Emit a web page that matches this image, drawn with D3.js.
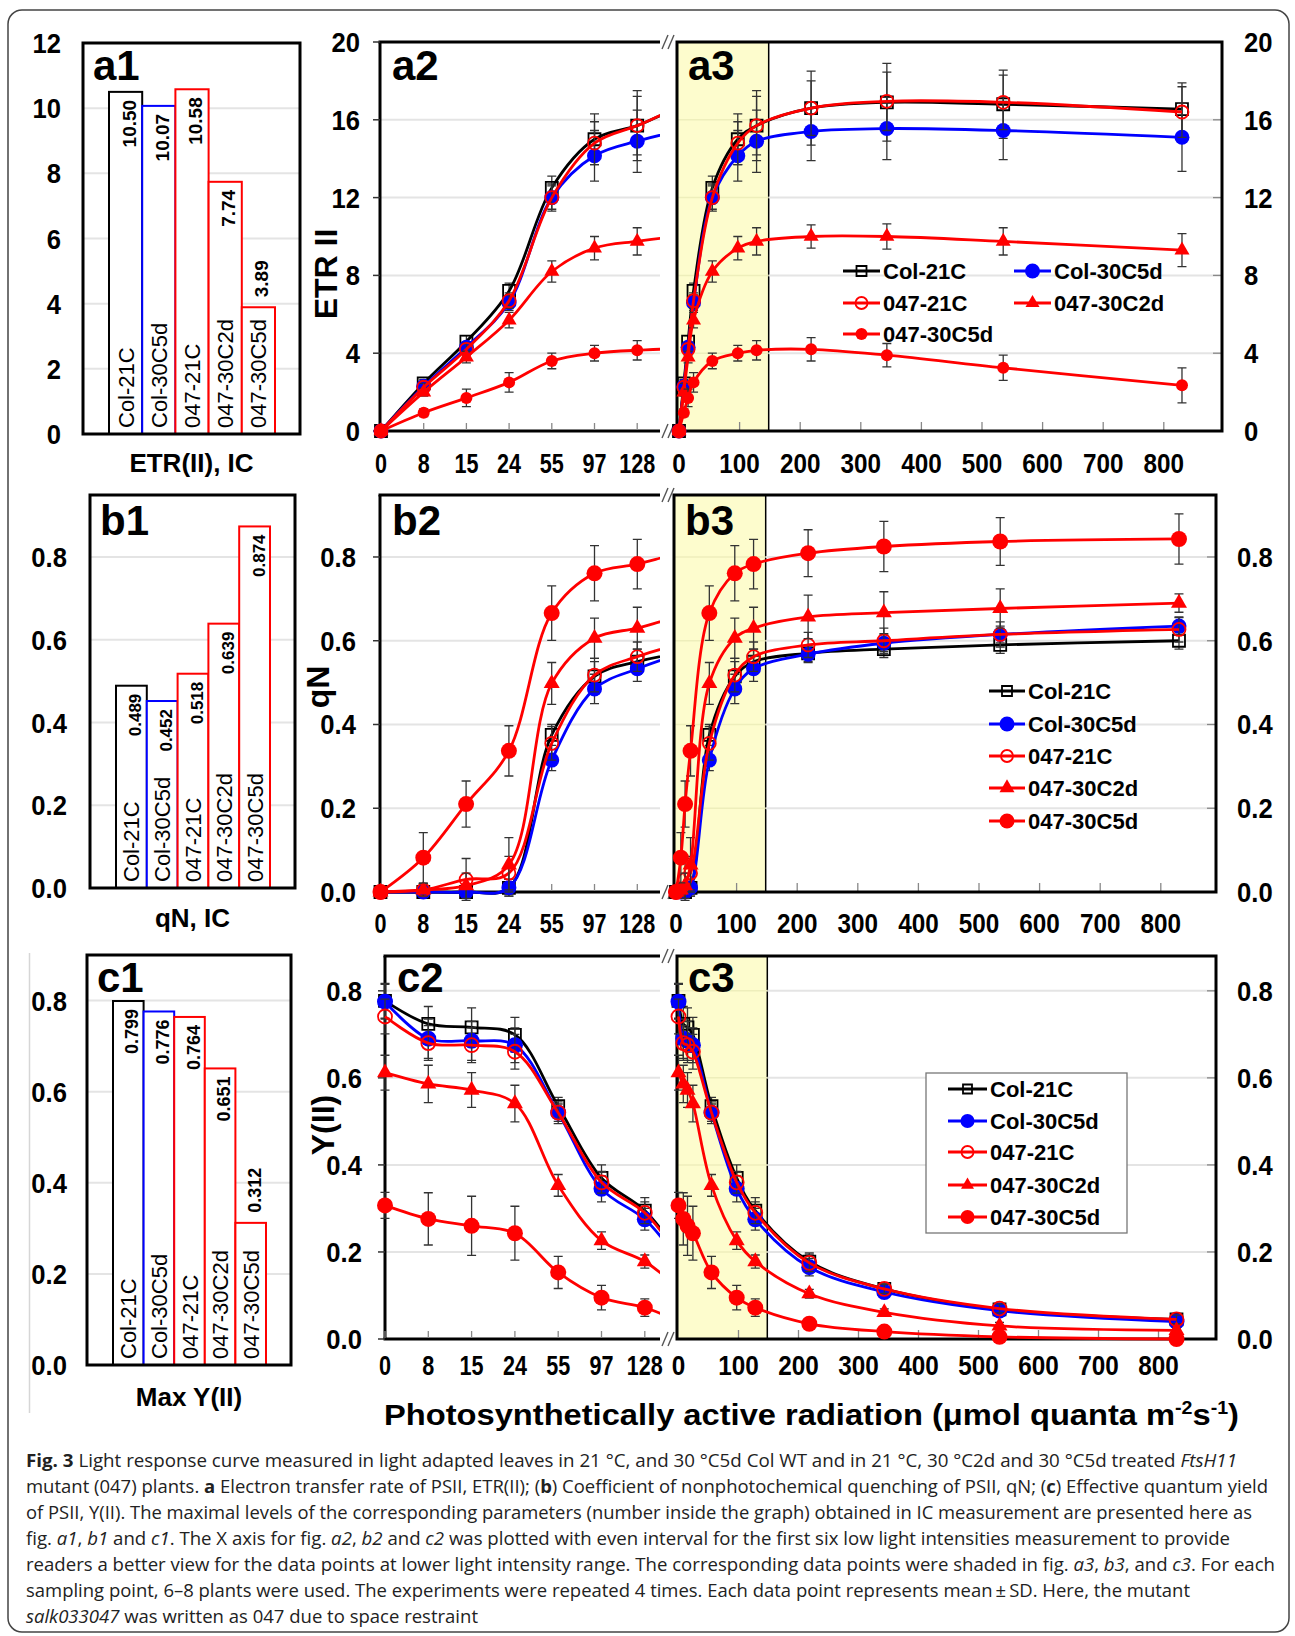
<!DOCTYPE html>
<html>
<head>
<meta charset="utf-8">
<script src="https://cdn.jsdelivr.net/npm/d3@7"></script>
<style>
  body { margin: 0; background: #fff; }
</style>
</head>
<body>
<script>
// ---- data ----
var categories = ["Col-21C", "Col-30C5d", "047-21C", "047-30C2d", "047-30C5d"];
var parLevels = [0, 8, 15, 24, 55, 97, 128, 218, 343, 535, 830];
var lowTickLabels = ["0", "8", "15", "24", "55", "97", "128"];
var highTicks = [0, 100, 200, 300, 400, 500, 600, 700, 800];
var etrTicks = [0, 4, 8, 12, 16, 20];
var etrBarTicks = [0, 2, 4, 6, 8, 10, 12];
var fracTicks = [0, 0.2, 0.4, 0.6, 0.8];

// IC maxima (bar panels)
var icETR = [10.50, 10.07, 10.58, 7.74, 3.89];
var icQN = [0.489, 0.452, 0.518, 0.639, 0.874];
var icY = [0.799, 0.776, 0.764, 0.651, 0.312];

// ETR(II) mean / SD, one row per series (same order as categories)
var etrMean = [
  [0, 2.45, 4.6, 7.2, 12.5, 15.0, 15.7, 16.6, 16.9, 16.8, 16.55],
  [0, 2.3, 4.3, 6.6, 12.0, 14.15, 14.9, 15.4, 15.55, 15.45, 15.1],
  [0, 2.25, 4.2, 6.7, 12.0, 14.8, 15.7, 16.6, 16.95, 16.9, 16.4],
  [0, 2.0, 3.8, 5.7, 8.2, 9.4, 9.75, 10.0, 10.0, 9.75, 9.3],
  [0, 0.94, 1.7, 2.5, 3.6, 4.0, 4.15, 4.2, 3.9, 3.25, 2.35]
];
var etrSd = [
  [0, 0.2, 0.3, 0.4, 0.6, 1.3, 1.8, 1.9, 2.0, 1.75, 1.35],
  [0, 0.2, 0.3, 0.4, 0.6, 1.3, 1.6, 1.5, 1.6, 1.5, 1.75],
  [0, 0.2, 0.3, 0.4, 0.7, 1.1, 1.5, 1.4, 1.5, 1.4, 1.3],
  [0, 0.2, 0.3, 0.4, 0.55, 0.6, 0.7, 0.6, 0.65, 0.7, 0.85],
  [0, 0.2, 0.45, 0.5, 0.4, 0.4, 0.5, 0.6, 0.6, 0.65, 0.9]
];

// qN mean / SD
var qnMean = [
  [0, 0, 0, 0.01, 0.375, 0.515, 0.55, 0.57, 0.58, 0.59, 0.60],
  [0, 0, 0, 0.01, 0.315, 0.485, 0.533, 0.568, 0.594, 0.615, 0.635],
  [0, 0.005, 0.03, 0.045, 0.355, 0.518, 0.562, 0.59, 0.60, 0.615, 0.627],
  [0, 0.005, 0.015, 0.065, 0.498, 0.606, 0.63, 0.657, 0.667, 0.677, 0.69],
  [0, 0.082, 0.21, 0.337, 0.666, 0.761, 0.783, 0.809, 0.825, 0.837, 0.843]
];
var qnSd = [
  [0, 0.01, 0.01, 0.02, 0.025, 0.035, 0.03, 0.02, 0.02, 0.02, 0.02],
  [0, 0.01, 0.01, 0.02, 0.025, 0.035, 0.03, 0.02, 0.02, 0.02, 0.02],
  [0, 0.015, 0.05, 0.04, 0.04, 0.04, 0.035, 0.03, 0.03, 0.03, 0.03],
  [0, 0.015, 0.03, 0.065, 0.05, 0.048, 0.05, 0.052, 0.05, 0.047, 0.022],
  [0, 0.06, 0.055, 0.06, 0.065, 0.066, 0.059, 0.056, 0.06, 0.057, 0.06]
];

// Y(II) mean / SD
var yMean = [
  [0.777, 0.724, 0.716, 0.699, 0.535, 0.37, 0.295, 0.178, 0.115, 0.068, 0.045],
  [0.775, 0.69, 0.685, 0.675, 0.52, 0.345, 0.275, 0.165, 0.108, 0.065, 0.04],
  [0.741, 0.68, 0.675, 0.66, 0.52, 0.36, 0.29, 0.175, 0.115, 0.07, 0.045],
  [0.612, 0.586, 0.572, 0.541, 0.353, 0.226, 0.178, 0.104, 0.061, 0.03, 0.02],
  [0.307, 0.276, 0.26, 0.243, 0.153, 0.095, 0.072, 0.035, 0.017, 0.005, 0.0]
];
var ySd = [
  [0.04, 0.04, 0.045, 0.04, 0.02, 0.03, 0.03, 0.02, 0.01, 0.01, 0.01],
  [0.04, 0.045, 0.045, 0.04, 0.02, 0.03, 0.025, 0.02, 0.01, 0.01, 0.01],
  [0.04, 0.04, 0.04, 0.04, 0.025, 0.025, 0.025, 0.02, 0.01, 0.01, 0.01],
  [0.04, 0.043, 0.04, 0.042, 0.025, 0.02, 0.015, 0.01, 0.008, 0.008, 0.005],
  [0.03, 0.06, 0.068, 0.062, 0.037, 0.028, 0.02, 0.012, 0.008, 0.005, 0.005]
];

var seriesColor = ["#000000", "#0000ff", "#ff0000", "#ff0000", "#ff0000"];
var seriesShape = ["square", "dot", "ring", "triangle", "dot"];

// ---- page ----
var W = 1295, H = 1636;
var svg = d3.select("body").append("svg")
    .attr("width", W)
    .attr("height", H)
    .style("font-family", "'Liberation Sans', Arial, sans-serif");

svg.append("rect")
    .attr("x", 8).attr("y", 10)
    .attr("width", 1281).attr("height", 1622)
    .attr("rx", 14)
    .attr("fill", "#fff")
    .attr("stroke", "#444")
    .attr("stroke-width", 1.5);

// faint stray line left of c1
svg.append("line")
    .attr("x1", 29.5).attr("x2", 29.5).attr("y1", 953).attr("y2", 1413)
    .attr("stroke", "#d6d6d6").attr("stroke-width", 1.5);

// text helper, y is the baseline
function label(g, x, y, s, size, opt) {
    opt = opt || {};
    var t = "translate(" + x + "," + y + ")";
    if (opt.rot) t += " rotate(" + opt.rot + ")";
    if (opt.sx) t += " scale(" + opt.sx + ",1)";
    return g.append("text")
        .attr("transform", t)
        .attr("text-anchor", opt.anchor || "middle")
        .attr("font-size", size)
        .attr("font-weight", opt.weight || "bold")
        .attr("fill", opt.fill || "#000")
        .text(s);
}

// r: half side for squares, radius for circles, side for triangles
function marker(g, shape, cx, cy, col, r) {
    var p;
    if (shape === "square") {
        p = g.append("path").attr("d", d3.symbol(d3.symbolSquare, 4 * r * r)())
            .attr("fill", "none").attr("stroke", col).attr("stroke-width", 1.8);
    } else if (shape === "ring") {
        p = g.append("path").attr("d", d3.symbol(d3.symbolCircle, Math.PI * r * r)())
            .attr("fill", "none").attr("stroke", col).attr("stroke-width", 1.8);
    } else if (shape === "triangle") {
        p = g.append("path").attr("d", d3.symbol(d3.symbolTriangle, r * r * Math.sqrt(3) / 4)())
            .attr("fill", col);
    } else {
        p = g.append("path").attr("d", d3.symbol(d3.symbolCircle, Math.PI * r * r)())
            .attr("fill", col);
    }
    p.attr("transform", "translate(" + cx + "," + cy + ")");
}

// ---- bar panels (a1, b1, c1) ----
function barPanel(p, values) {
    var g = svg.append("g");
    var y = d3.scaleLinear().domain([0, p.max]).range([p.bottom, p.top]);
    var x = d3.scaleBand().domain(categories).range([p.x0 + 26, p.x1 - 25]);

    // gridlines
    g.selectAll("line.grid")
        .data(p.ticks.filter(function (t) { return t > 0 && t < p.max; }))
        .enter().append("line")
        .attr("x1", p.x0).attr("x2", p.x1)
        .attr("y1", function (d) { return y(d); })
        .attr("y2", function (d) { return y(d); })
        .attr("stroke", "#e4e4e4").attr("stroke-width", 2);

    p.ticks.forEach(function (t) {
        label(g, p.labelX, y(t) + 10, p.fmt(t), 27, { anchor: "end", sx: 0.95 });
    });

    g.selectAll("rect.bar")
        .data(values)
        .enter().append("rect")
        .attr("x", function (d, i) { return x(categories[i]); })
        .attr("y", function (d) { return y(d); })
        .attr("width", x.bandwidth())
        .attr("height", function (d) { return p.bottom - y(d); })
        .attr("fill", "#fff")
        .attr("stroke", function (d, i) { return seriesColor[i]; })
        .attr("stroke-width", 2);

    g.append("rect")
        .attr("x", p.x0).attr("y", p.top)
        .attr("width", p.x1 - p.x0).attr("height", p.bottom - p.top)
        .attr("fill", "none").attr("stroke", "#000").attr("stroke-width", 3);

    values.forEach(function (v, i) {
        var cx = x(categories[i]) + x.bandwidth() / 2;
        label(g, cx + 8, p.bottom - 6, categories[i], 22, { rot: -90, anchor: "start", weight: "normal" });
        if (v / p.max >= 0.4) {
            label(g, cx + 10, y(v) + 8, p.vfmt(v), p.vsize, { rot: -90, anchor: "end" });
        } else {
            label(g, cx + 10, y(v) - 10, p.vfmt(v), p.vsize, { rot: -90, anchor: "start" });
        }
    });

    label(g, (p.x0 + p.x1) / 2, p.titleY + 9, p.title, 26);
    label(g, p.x0 + 10, p.letterY, p.letter, 42, { anchor: "start" });
}

barPanel({ x0: 83, x1: 300, top: 43, bottom: 434, max: 12, ticks: etrBarTicks, fmt: d3.format("d"),
    labelX: 61, vfmt: d3.format(".2f"), vsize: 19, title: "ETR(II), IC", titleY: 463, letter: "a1", letterY: 80 }, icETR);
barPanel({ x0: 90, x1: 295, top: 495, bottom: 888, max: 0.95, ticks: fracTicks, fmt: d3.format(".1f"),
    labelX: 67, vfmt: d3.format(".3f"), vsize: 17, title: "qN, IC", titleY: 918, letter: "b1", letterY: 535 }, icQN);
barPanel({ x0: 87, x1: 291, top: 955, bottom: 1365, max: 0.9, ticks: fracTicks, fmt: d3.format(".1f"),
    labelX: 67, vfmt: d3.format(".3f"), vsize: 18, title: "Max Y(II)", titleY: 1397, letter: "c1", letterY: 992 }, icY);

// ---- light response panels ----
var BREAK_X = 660;

function linePanel(p, means, sds) {
    var g = svg.append("g");
    var y = d3.scaleLinear().domain([0, p.max]).range([p.bottom, p.top]);
    var xl = d3.scalePoint().domain(parLevels)
        .range([p.lx0, p.lx0 + p.lstep * (parLevels.length - 1)]);
    var xr = d3.scaleLinear().domain([0, 100]).range([p.rzero, p.rzero + p.r100]);
    var inner = p.ticks.filter(function (t) { return t > 0 && t < p.max; });

    // left part (even spacing)
    inner.forEach(function (t) {
        g.append("line").attr("x1", p.axisX).attr("x2", BREAK_X).attr("y1", y(t)).attr("y2", y(t))
            .attr("stroke", "#e4e4e4").attr("stroke-width", 2);
    });
    [p.top, p.bottom].forEach(function (yy) {
        g.append("line").attr("x1", p.axisX - 1.5).attr("x2", BREAK_X).attr("y1", yy).attr("y2", yy)
            .attr("stroke", "#000").attr("stroke-width", 3);
        // break marks
        [0, 6].forEach(function (dx) {
            g.append("line")
                .attr("x1", BREAK_X + 2 + dx).attr("y1", yy + 7)
                .attr("x2", BREAK_X + 8 + dx).attr("y2", yy - 7)
                .attr("stroke", "#555").attr("stroke-width", 1.4);
        });
    });
    g.append("line").attr("x1", p.axisX).attr("x2", p.axisX).attr("y1", p.top).attr("y2", p.bottom)
        .attr("stroke", "#000").attr("stroke-width", 3);
    p.ticks.forEach(function (t) {
        g.append("line").attr("x1", p.axisX - 7).attr("x2", p.axisX).attr("y1", y(t)).attr("y2", y(t))
            .attr("stroke", "#333").attr("stroke-width", 1.5);
        label(g, p.lLabelX, y(t) + 10, p.fmt(t), 27, { anchor: "end", sx: 0.95 });
    });
    lowTickLabels.forEach(function (s, i) {
        var xx = xl(parLevels[i]);
        g.append("line").attr("x1", xx).attr("x2", xx).attr("y1", p.bottom - 1).attr("y2", p.bottom - 8)
            .attr("stroke", "#888").attr("stroke-width", 1.3);
        label(g, xx, p.xLabelY + 10, s, 27, { sx: 0.8 });
    });

    // right part (linear)
    g.append("rect").attr("x", p.boxL).attr("y", p.top)
        .attr("width", xr(148) - p.boxL).attr("height", p.bottom - p.top)
        .attr("fill", "#fdfccd");
    g.append("line").attr("x1", xr(148)).attr("x2", xr(148)).attr("y1", p.top).attr("y2", p.bottom)
        .attr("stroke", "#000").attr("stroke-width", 1.5);
    inner.forEach(function (t) {
        g.append("line").attr("x1", xr(148)).attr("x2", p.boxR).attr("y1", y(t)).attr("y2", y(t))
            .attr("stroke", "#e4e4e4").attr("stroke-width", 2);
        g.append("line").attr("x1", p.boxL).attr("x2", xr(148)).attr("y1", y(t)).attr("y2", y(t))
            .attr("stroke", "#eeeebb").attr("stroke-width", 1.5);
    });
    highTicks.forEach(function (t) {
        if (t > 0) {
            g.append("line").attr("x1", xr(t)).attr("x2", xr(t)).attr("y1", p.bottom - 1).attr("y2", p.bottom - 9)
                .attr("stroke", "#888").attr("stroke-width", 1.3);
        }
        label(g, xr(t), p.xLabelY + 10, String(t), 27, { sx: 0.9 });
    });
    p.ticks.forEach(function (t) {
        if (t > 0 && t < p.max) {
            g.append("line").attr("x1", p.boxR - 9).attr("x2", p.boxR).attr("y1", y(t)).attr("y2", y(t))
                .attr("stroke", "#888").attr("stroke-width", 1.3);
        }
        label(g, p.rLabelX, y(t) + 10, p.fmt(t), 27, { anchor: "start", sx: 0.95 });
    });
    g.append("rect").attr("x", p.boxL).attr("y", p.top)
        .attr("width", p.boxR - p.boxL).attr("height", p.bottom - p.top)
        .attr("fill", "none").attr("stroke", "#000").attr("stroke-width", 3);

    // titles and panel letters
    label(g, p.ytx, p.yty, p.ytitle, 32, { rot: -90 });
    label(g, p.axisX + 12, p.letterY, p.key + "2", 42, { anchor: "start" });
    label(g, p.boxL + 11, p.letterY, p.key + "3", 42, { anchor: "start" });

    // clip for the even-spaced part
    svg.append("clipPath").attr("id", "clip" + p.key)
        .append("rect").attr("x", p.axisX - 15).attr("y", p.top - 30)
        .attr("width", BREAK_X - p.axisX + 15).attr("height", p.bottom - p.top + 60);

    var curve = d3.curveCatmullRom.alpha(0.5);
    means.forEach(function (m, s) {
        var col = seriesColor[s];
        var sd = sds[s];
        var r = p.msize[s];

        // error bars
        m.forEach(function (v, i) {
            if (!sd[i]) return;
            var xs = [];
            if (i < lowTickLabels.length) xs.push(xl(parLevels[i]));
            xs.push(xr(parLevels[i]));
            xs.forEach(function (xx) {
                var y1 = y(v + sd[i]), y2 = y(v - sd[i]);
                g.append("path")
                    .attr("d", "M" + xx + "," + y1 + "V" + y2 +
                        "M" + (xx - 4.5) + "," + y1 + "H" + (xx + 4.5) +
                        "M" + (xx - 4.5) + "," + y2 + "H" + (xx + 4.5))
                    .attr("fill", "none").attr("stroke", "#333").attr("stroke-width", 1.3);
            });
        });

        // lines
        g.append("path").datum(m)
            .attr("d", d3.line()
                .x(function (d, i) { return xl(parLevels[i]); })
                .y(function (d) { return y(d); })
                .curve(curve))
            .attr("clip-path", "url(#clip" + p.key + ")")
            .attr("fill", "none").attr("stroke", col).attr("stroke-width", 2.8);
        g.append("path").datum(m)
            .attr("d", d3.line()
                .x(function (d, i) { return xr(parLevels[i]); })
                .y(function (d) { return y(d); })
                .curve(curve))
            .attr("fill", "none").attr("stroke", col).attr("stroke-width", 2.8);

        // markers
        m.forEach(function (v, i) {
            if (i < lowTickLabels.length) marker(g, seriesShape[s], xl(parLevels[i]), y(v), col, r);
            marker(g, seriesShape[s], xr(parLevels[i]), y(v), col, r);
        });
    });

    // legend
    var lg = svg.append("g");
    if (p.legendBox) {
        lg.append("rect").attr("x", p.legendBox[0]).attr("y", p.legendBox[1])
            .attr("width", p.legendBox[2]).attr("height", p.legendBox[3])
            .attr("fill", "#fff").attr("stroke", "#777").attr("stroke-width", 1.3);
    }
    p.legend.forEach(function (pos, s) {
        var x1 = pos[0], x2 = pos[0] + p.legendLine, yy = pos[1];
        lg.append("line").attr("x1", x1).attr("x2", x2).attr("y1", yy).attr("y2", yy)
            .attr("stroke", seriesColor[s]).attr("stroke-width", 2.8);
        marker(lg, seriesShape[s], (x1 + x2) / 2, yy, seriesColor[s], p.lsize[s]);
        label(lg, x2 + 3, yy + 8, categories[s], 22, { anchor: "start" });
    });
}

linePanel({ key: "a", top: 42, bottom: 431, max: 20, ticks: etrTicks, fmt: d3.format("d"),
    ytitle: "ETR II", ytx: 337, yty: 274, letterY: 80,
    axisX: 380, lx0: 381, lstep: 42.7, lLabelX: 360, xLabelY: 463,
    boxL: 677, boxR: 1222, rzero: 679, r100: 60.6, rLabelX: 1244,
    msize: [6, 7.5, 6.5, 15, 6],
    lsize: [5, 7.5, 6, 14, 6],
    legendLine: 37,
    legend: [[843, 271], [1014, 271], [843, 303], [1014, 303], [843, 334]] }, etrMean, etrSd);

linePanel({ key: "b", top: 495, bottom: 892, max: 0.948, ticks: fracTicks, fmt: d3.format(".1f"),
    ytitle: "qN", ytx: 329, yty: 687, letterY: 535,
    axisX: 380, lx0: 380.5, lstep: 42.8, lLabelX: 356, xLabelY: 923,
    boxL: 674, boxR: 1216, rzero: 676, r100: 60.6, rLabelX: 1237,
    msize: [6, 7.5, 6.5, 16, 8],
    lsize: [5, 7.5, 6, 15, 7.5],
    legendLine: 36,
    legend: [[989, 691], [989, 724], [989, 756], [989, 788], [989, 821]] }, qnMean, qnSd);

linePanel({ key: "c", top: 956, bottom: 1339, max: 0.88, ticks: fracTicks, fmt: d3.format(".1f"),
    ytitle: "Y(II)", ytx: 334, yty: 1125, letterY: 992,
    axisX: 385, lx0: 385, lstep: 43.3, lLabelX: 362, xLabelY: 1365,
    boxL: 677, boxR: 1216, rzero: 678.5, r100: 60.0, rLabelX: 1237,
    msize: [6, 8, 7, 16, 8],
    lsize: [4.5, 7, 6, 13, 7],
    legendLine: 39,
    legendBox: [926, 1073, 201, 160],
    legend: [[948, 1089], [948, 1121], [948, 1152], [948, 1185], [948, 1217]] }, yMean, ySd);

// x axis title
var xt = svg.append("text")
    .attr("x", 384).attr("y", 1425)
    .attr("font-size", 30).attr("font-weight", "bold")
    .attr("textLength", 855).attr("lengthAdjust", "spacingAndGlyphs");
xt.append("tspan").text("Photosynthetically active radiation (\u03bcmol quanta m");
xt.append("tspan").attr("dy", -11).attr("font-size", 18).text("-2");
xt.append("tspan").attr("dy", 11).text("s");
xt.append("tspan").attr("dy", -11).attr("font-size", 18).text("-1");
xt.append("tspan").attr("dy", 11).text(")");

// caption
var captionLines = [
    [["Fig. 3", "b"], [" Light response curve measured in light adapted leaves in 21 \u00b0C, and 30 \u00b0C5d Col WT and in 21 \u00b0C, 30 \u00b0C2d and 30 \u00b0C5d treated "], ["FtsH11", "i"]],
    [["mutant (047) plants. "], ["a", "b"], [" Electron transfer rate of PSII, ETR(II); ("], ["b", "b"], [") Coefficient of nonphotochemical quenching of PSII, qN; ("], ["c", "b"], [") Effective quantum yield"]],
    [["of PSII, Y(II). The maximal levels of the corresponding parameters (number inside the graph) obtained in IC measurement are presented here as"]],
    [["fig. "], ["a1", "i"], [", "], ["b1", "i"], [" and "], ["c1", "i"], [". The X axis for fig. "], ["a2", "i"], [", "], ["b2", "i"], [" and "], ["c2", "i"], [" was plotted with even interval for the first six low light intensities measurement to provide"]],
    [["readers a better view for the data points at lower light intensity range. The corresponding data points were shaded in fig. "], ["a3", "i"], [", "], ["b3", "i"], [", and "], ["c3", "i"], [". For each"]],
    [["sampling point, 6\u20138 plants were used. The experiments were repeated 4 times. Each data point represents mean\u2009\u00b1\u2009SD. Here, the mutant"]],
    [["salk033047", "i"], [" was written as 047 due to space restraint"]]
];
var captionEnds = [1237, 1268, 1252, 1230, 1275, 1190, 478];

captionLines.forEach(function (line, k) {
    var t = svg.append("text")
        .attr("x", 26).attr("y", 1467 + k * 26)
        .attr("font-family", "'Open Sans', 'Noto Sans', sans-serif")
        .attr("font-size", 18)
        .attr("fill", "#222")
        .attr("textLength", captionEnds[k] - 26)
        .attr("lengthAdjust", "spacingAndGlyphs");
    line.forEach(function (seg) {
        var ts = t.append("tspan").text(seg[0]);
        if (seg[1] === "b") ts.attr("font-weight", "bold");
        if (seg[1] === "i") ts.attr("font-style", "italic");
    });
});
</script>
</body>
</html>
